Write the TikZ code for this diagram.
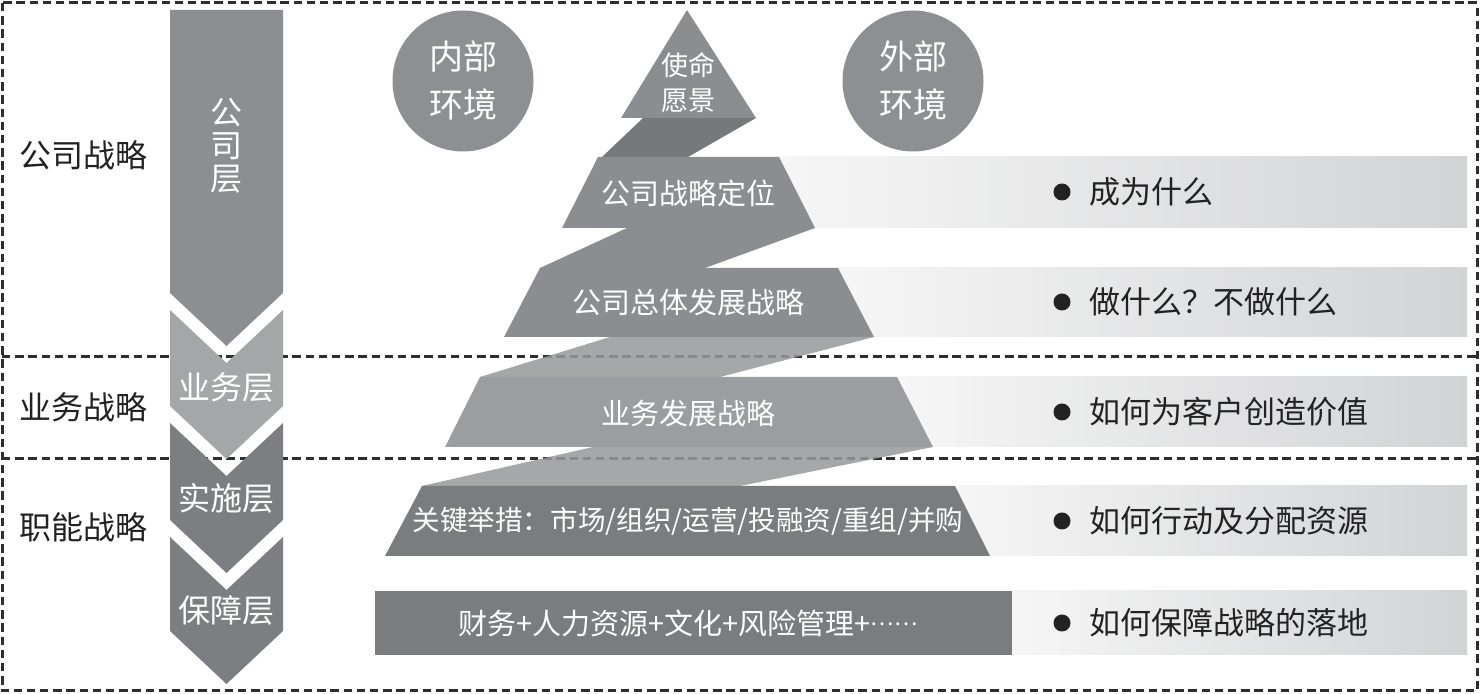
\documentclass[tikz,border=0pt]{standalone}
\usepackage{fontspec}
\setmainfont{Noto Sans CJK SC}
\newcommand{\fsz}[2]{\fontsize{#1}{#2}\selectfont}
\definecolor{frameC}{HTML}{2E2E2E}
\definecolor{arrA}{HTML}{8D8E91}
\definecolor{arrB}{HTML}{A5A6A8}
\definecolor{arrC}{HTML}{7D7E81}
\definecolor{circC}{HTML}{8E8F92}
\definecolor{lvlA}{HTML}{8C8D90}
\definecolor{lvlB}{HTML}{9C9DA0}
\definecolor{lvlC}{HTML}{7B7C7F}
\definecolor{ribDark}{HTML}{77787B}
\definecolor{ribLight}{HTML}{98999C}
\definecolor{barL}{HTML}{F6F6F6}
\definecolor{barR}{HTML}{D2D3D5}
\definecolor{txtC}{HTML}{222222}
\begin{document}
\begin{tikzpicture}[x=0.5pt,y=-0.5pt,
  dashline/.style={draw=frameC, line width=1.5pt, dash pattern=on 4.2pt off 2.4pt},
  bar/.style={left color=barL, right color=barR, draw=none},
  ribbon/.style={fill=ribLight, fill opacity=0.86, draw=none},
  wtext/.style={text=white, inner sep=0pt, align=center},
  sidelabel/.style={text=txtC, inner sep=0pt, anchor=west, font=\fsz{16}{18}},
  point/.style={text=txtC, inner sep=0pt, anchor=west, font=\fsz{15.5}{18}},
  lvltext/.style={wtext, font=\fsz{14.5}{17}},
  layertext/.style={wtext, font=\fsz{16}{16.5}},
  envcircle/.style={circle, fill=circC, minimum size=70.5pt, inner sep=0pt}]
\useasboundingbox (0,0) rectangle (1480,694);
\fill[white] (0,0) rectangle (1480,694);

% frame and dividers
\draw[dashline] (2,3) rectangle (1477,691);
\draw[dashline] (2,357) -- (1477,357);
\draw[dashline] (2,459) -- (1477,459);

% left chevrons
\fill[arrA] (170,10) -- (283,10) -- (283,293) -- (226.5,346) -- (170,293) -- cycle;
\fill[arrB] (170,310) -- (226.5,363) -- (283,310) -- (283,406) -- (226.5,459) -- (170,406) -- cycle;
\fill[arrC] (170,423) -- (226.5,476) -- (283,423) -- (283,520) -- (226.5,573) -- (170,520) -- cycle;
\fill[arrC] (170,537) -- (226.5,590) -- (283,537) -- (283,631) -- (226.5,684) -- (170,631) -- cycle;

\node[layertext] (l1) at (226.5,146) {公\\司\\层};
\node[layertext] (l2) at (226.5,387) {业务层};
\node[layertext] (l3) at (226.5,498) {实施层};
\node[layertext] (l4) at (226.5,610) {保障层};

% side labels
\node[sidelabel] (s1) at (19,155) {公司战略};
\node[sidelabel] (s2) at (19,407) {业务战略};
\node[sidelabel] (s3) at (19,527) {职能战略};

% gradient bars
\shade[bar] (779,157) rectangle (1467,228);
\shade[bar] (838,268) rectangle (1467,337);
\shade[bar] (897,377) rectangle (1467,447);
\shade[bar] (955,486) rectangle (1467,556);
\shade[bar] (1012,591) rectangle (1467,655);

% circles
\node[envcircle] (inner) at (463,81) {};
\node[envcircle] (outer) at (913,81) {};
\node[wtext, font=\fsz{17}{24}] (innert) at (463,81) {内部\\环境};
\node[wtext, font=\fsz{17}{24}] (outert) at (913,81) {外部\\环境};

% pyramid
\fill[ribDark] (643,118) -- (756,118) -- (688,157) -- (602,157) -- cycle;
\fill[lvlA] (687,10) -- (756,118) -- (621,118) -- cycle;
\fill[lvlA] (598,157) -- (779,157) -- (815,228) -- (562,228) -- cycle;
\fill[lvlA] (627,228) -- (815,228) -- (705,268) -- (540,268) -- cycle;
\fill[lvlA] (540,268) -- (838,268) -- (874,337) -- (504,337) -- cycle;
\fill[ribbon] (610,337) -- (874,337) -- (720,377) -- (480,377) -- cycle;
\fill[lvlB] (480,377) -- (897,377) -- (933,447) -- (445,447) -- cycle;
\fill[ribbon] (593,447) -- (933,447) -- (740,486) -- (422,486) -- cycle;
\fill[lvlC] (422,486) -- (955,486) -- (990,556) -- (385,556) -- cycle;
\fill[lvlC] (375,591) rectangle (1012,655);

\node[wtext, font=\fsz{13.5}{17.5}] (mission) at (688,83) {使命\\愿景};
\node[lvltext] (p1) at (688,193) {公司战略定位};
\node[lvltext] (p2) at (688,302) {公司总体发展战略};
\node[lvltext] (p3) at (688,413) {业务发展战略};
\node[wtext, font=\fsz{13.8}{17}] (p4) at (688,521) {关键举措：市场/组织/运营/投融资/重组/并购};
\node[lvltext] (p5) at (688,623) {财务+人力资源+文化+风险管理+\raisebox{0.3em}{\fsz{11}{12}……}};

% bullet points
\foreach \yy/\nm/\tx in {192/q1/成为什么, 302/q2/做什么？不做什么, 412/q3/如何为客户创造价值, 521/q4/如何行动及分配资源, 623/q5/如何保障战略的落地}{
  \fill[txtC] (1062,\yy) circle[radius=4.25pt];
  \node[point] (\nm) at (1089,\yy) {\tx};
}
\end{tikzpicture}
\end{document}
